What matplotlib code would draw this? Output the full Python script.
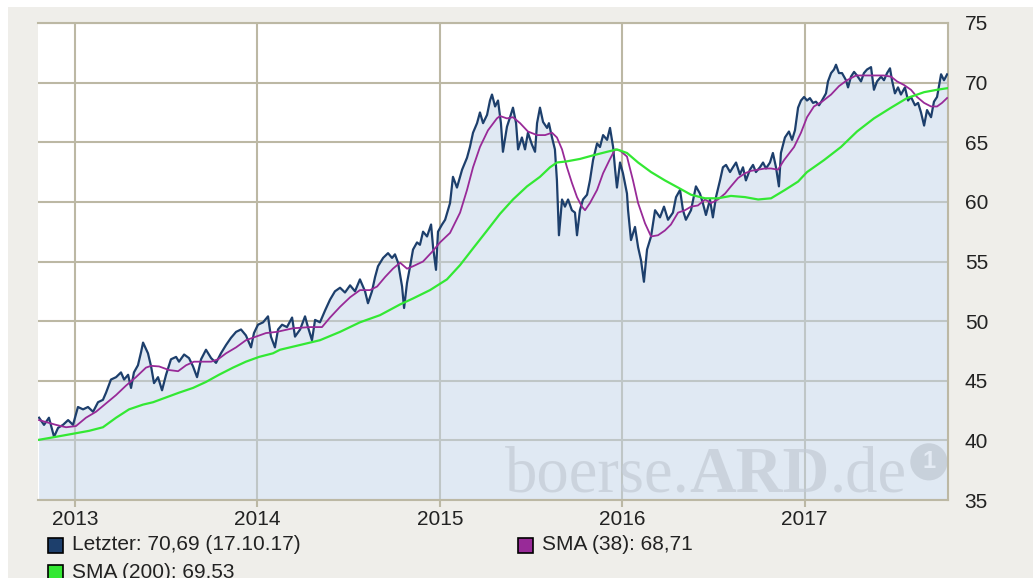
import matplotlib
matplotlib.use('Agg')
import matplotlib.pyplot as plt
from matplotlib.patches import Rectangle
from matplotlib.offsetbox import TextArea, HPacker, AnnotationBbox

plt.rcParams['font.family'] = ['Liberation Sans', 'DejaVu Sans']

# Kurs (Letzter), x in Dezimaljahren
price_t = [2012.803, 2012.830, 2012.857, 2012.885, 2012.907, 2012.934, 2012.962, 2012.989,
           2013.016, 2013.044, 2013.071, 2013.099, 2013.126, 2013.153, 2013.170, 2013.197,
           2013.225, 2013.252, 2013.269, 2013.291, 2013.307, 2013.323, 2013.345, 2013.362,
           2013.373, 2013.400, 2013.417, 2013.433, 2013.455, 2013.477, 2013.499, 2013.526,
           2013.554, 2013.570, 2013.598, 2013.625, 2013.647, 2013.669, 2013.691, 2013.718,
           2013.746, 2013.773, 2013.800, 2013.828, 2013.855, 2013.883, 2013.910, 2013.937,
           2013.965, 2013.981, 2014.003, 2014.031, 2014.058, 2014.074, 2014.096, 2014.113,
           2014.135, 2014.162, 2014.190, 2014.206, 2014.234, 2014.261, 2014.277, 2014.299,
           2014.316, 2014.343, 2014.371, 2014.398, 2014.425, 2014.453, 2014.480, 2014.508,
           2014.535, 2014.562, 2014.590, 2014.606, 2014.628, 2014.645, 2014.661, 2014.689,
           2014.716, 2014.738, 2014.754, 2014.771, 2014.793, 2014.804, 2014.820, 2014.837,
           2014.853, 2014.875, 2014.891, 2014.908, 2014.930, 2014.952, 2014.963, 2014.979,
           2014.990, 2015.012, 2015.029, 2015.056, 2015.072, 2015.094, 2015.122, 2015.149,
           2015.165, 2015.182, 2015.204, 2015.220, 2015.237, 2015.259, 2015.275, 2015.286,
           2015.303, 2015.319, 2015.335, 2015.346, 2015.368, 2015.385, 2015.401, 2015.418,
           2015.429, 2015.450, 2015.467, 2015.483, 2015.505, 2015.522, 2015.533, 2015.549,
           2015.566, 2015.588, 2015.598, 2015.615, 2015.631, 2015.642, 2015.653, 2015.670,
           2015.686, 2015.703, 2015.724, 2015.741, 2015.752, 2015.768, 2015.785, 2015.807,
           2015.823, 2015.840, 2015.862, 2015.878, 2015.895, 2015.917, 2015.933, 2015.950,
           2015.961, 2015.971, 2015.988, 2016.004, 2016.026, 2016.032, 2016.048, 2016.070,
           2016.087, 2016.103, 2016.119, 2016.136, 2016.158, 2016.180, 2016.207, 2016.229,
           2016.251, 2016.278, 2016.295, 2016.317, 2016.333, 2016.349, 2016.377, 2016.404,
           2016.426, 2016.442, 2016.459, 2016.481, 2016.497, 2016.514, 2016.536, 2016.552,
           2016.569, 2016.591, 2016.607, 2016.624, 2016.645, 2016.662, 2016.678, 2016.700,
           2016.717, 2016.733, 2016.755, 2016.772, 2016.788, 2016.810, 2016.826, 2016.843,
           2016.859, 2016.870, 2016.892, 2016.914, 2016.931, 2016.947, 2016.964, 2016.980,
           2016.997, 2017.013, 2017.029, 2017.046, 2017.062, 2017.079, 2017.095, 2017.117,
           2017.128, 2017.145, 2017.161, 2017.172, 2017.188, 2017.205, 2017.227, 2017.238,
           2017.254, 2017.271, 2017.287, 2017.309, 2017.325, 2017.342, 2017.364, 2017.380,
           2017.397, 2017.419, 2017.435, 2017.452, 2017.468, 2017.479, 2017.495, 2017.512,
           2017.528, 2017.550, 2017.567, 2017.583, 2017.605, 2017.622, 2017.638, 2017.655,
           2017.671, 2017.693, 2017.709, 2017.726, 2017.748, 2017.764, 2017.781]
price_v = [41.9, 41.3, 41.9, 40.3, 41.05, 41.3, 41.7, 41.3,
           42.8, 42.6, 42.8, 42.4, 43.2, 43.4, 44.0, 45.1,
           45.3, 45.7, 45.1, 45.5, 44.4, 45.7, 46.3, 47.4,
           48.2, 47.3, 46.2, 44.8, 45.3, 44.2, 45.5, 46.8,
           47.0, 46.6, 47.2, 46.9, 46.2, 45.3, 46.8, 47.6,
           46.9, 46.5, 47.3, 48.0, 48.6, 49.1, 49.3, 48.8,
           47.8, 49.0, 49.7, 49.9, 50.4, 48.7, 47.8, 49.3,
           49.7, 49.5, 50.3, 48.7, 49.3, 50.4, 49.5, 48.4,
           50.1, 49.9, 50.9, 51.8, 52.5, 52.8, 52.4, 53.0,
           52.5, 53.5, 52.5, 51.5, 52.5, 53.7, 54.6, 55.3,
           55.7, 55.3, 55.6, 54.9, 52.9, 51.1, 53.2, 54.6,
           56.0, 56.6, 56.4, 57.5, 57.1, 58.1, 56.2, 54.3,
           57.5, 58.1, 58.5, 59.9, 62.1, 61.2, 62.7, 63.7,
           64.6, 65.8, 66.6, 67.5, 66.6, 67.3, 68.5, 69.0,
           68.0, 68.5, 66.6, 64.2, 66.3, 67.1, 67.9, 66.6,
           64.4, 65.4, 64.4, 65.8, 64.8, 64.2, 66.6, 67.9,
           66.7, 66.2, 66.6, 65.4, 64.4, 61.8, 57.2, 60.2,
           59.6, 60.2, 59.3, 59.1, 57.2, 59.3, 60.2, 60.6,
           61.8, 63.5, 64.9, 64.6, 65.6, 65.2, 66.2, 64.6,
           62.7, 61.2, 63.3, 62.4, 60.7, 59.3, 56.8, 57.9,
           56.2, 55.1, 53.3, 56.0, 57.1, 59.3, 58.7, 59.6,
           58.5, 59.1, 60.4, 61.0, 59.3, 58.5, 59.3, 61.3,
           60.7, 59.9, 58.9, 60.2, 58.7, 60.4, 61.8, 62.9,
           63.1, 62.5, 62.9, 63.3, 62.3, 62.9, 61.8, 62.7,
           63.1, 62.5, 62.9, 63.3, 62.8, 63.3, 64.1, 62.9,
           61.3, 64.1, 65.4, 65.9, 65.2, 66.0, 67.9, 68.5,
           68.8, 68.5, 68.7, 68.3, 68.4, 68.1, 68.5, 69.1,
           70.1, 70.8, 71.1, 71.5, 70.8, 70.8, 70.2, 69.6,
           70.5, 70.9, 70.6, 70.1, 70.8, 71.1, 71.3, 69.4,
           70.1, 70.5, 70.2, 70.8, 71.2, 70.2, 69.1, 69.6,
           69.0, 69.6, 68.5, 68.8, 68.1, 68.3, 67.5, 66.4,
           67.7, 67.1, 68.4, 68.8, 70.7, 70.2, 70.69]

# SMA (38)
sma38_t = [2012.803, 2012.896, 2012.951, 2013.005, 2013.060, 2013.115, 2013.170, 2013.225,
           2013.280, 2013.334, 2013.389, 2013.417, 2013.461, 2013.515, 2013.565, 2013.609,
           2013.652, 2013.702, 2013.746, 2013.784, 2013.828, 2013.883, 2013.937, 2013.992,
           2014.047, 2014.107, 2014.195, 2014.288, 2014.354, 2014.398, 2014.453, 2014.508,
           2014.562, 2014.617, 2014.656, 2014.700, 2014.743, 2014.782, 2014.820, 2014.853,
           2014.908, 2014.957, 2015.001, 2015.056, 2015.111, 2015.149, 2015.182, 2015.220,
           2015.264, 2015.313, 2015.330, 2015.368, 2015.401, 2015.440, 2015.483, 2015.533,
           2015.577, 2015.615, 2015.642, 2015.670, 2015.697, 2015.724, 2015.752, 2015.779,
           2015.796, 2015.823, 2015.862, 2015.895, 2015.933, 2015.961, 2015.988, 2016.026,
           2016.059, 2016.087, 2016.125, 2016.158, 2016.196, 2016.234, 2016.267, 2016.306,
           2016.344, 2016.377, 2016.415, 2016.454, 2016.487, 2016.525, 2016.564, 2016.596,
           2016.635, 2016.673, 2016.706, 2016.745, 2016.783, 2016.816, 2016.854, 2016.887,
           2016.942, 2016.980, 2017.013, 2017.051, 2017.095, 2017.145, 2017.188, 2017.232,
           2017.282, 2017.325, 2017.380, 2017.435, 2017.474, 2017.507, 2017.545, 2017.583,
           2017.616, 2017.655, 2017.693, 2017.726, 2017.753, 2017.781]
sma38_v = [41.7, 41.3, 41.1, 41.2, 41.9, 42.4, 43.1, 43.8,
           44.6, 45.3, 46.1, 46.25, 46.2, 45.9, 45.8, 46.3,
           46.6, 46.6, 46.6, 46.8, 47.3, 47.8, 48.4, 48.7,
           49.0, 49.1, 49.4, 49.5, 49.5, 50.3, 51.2, 52.0,
           52.6, 52.6, 52.9, 53.7, 54.4, 54.9, 54.4, 54.6,
           55.0, 55.8, 56.6, 57.4, 59.1, 61.0, 62.9, 64.6,
           66.0, 67.0, 67.2, 67.0, 67.1, 66.6, 65.9, 65.6,
           65.6, 65.8, 65.4, 64.4, 62.9, 61.6, 60.4, 59.6,
           59.3, 59.9, 61.0, 62.4, 63.6, 64.4, 64.3, 63.8,
           61.8, 59.9, 58.2, 57.1, 57.2, 57.6, 58.1, 59.1,
           59.3, 59.6, 59.7, 60.2, 59.9, 60.2, 60.7, 61.3,
           62.0, 62.4, 62.6, 62.7, 62.8, 62.8, 62.7, 63.5,
           64.6, 65.8, 67.1, 68.0, 68.4, 69.0, 69.7, 70.2,
           70.6, 70.6, 70.6, 70.6, 70.5, 70.1, 69.8, 69.4,
           68.8, 68.3, 68.0, 68.0, 68.3, 68.71]

# SMA (200)
sma200_t = [2012.803, 2012.896, 2013.005, 2013.077, 2013.153, 2013.225, 2013.296, 2013.373,
            2013.428, 2013.499, 2013.570, 2013.647, 2013.718, 2013.789, 2013.866, 2013.937,
            2014.009, 2014.085, 2014.124, 2014.234, 2014.343, 2014.453, 2014.562, 2014.672,
            2014.782, 2014.853, 2014.946, 2015.039, 2015.111, 2015.182, 2015.259, 2015.330,
            2015.401, 2015.478, 2015.549, 2015.604, 2015.642, 2015.697, 2015.768, 2015.840,
            2015.917, 2015.971, 2016.026, 2016.087, 2016.158, 2016.234, 2016.306, 2016.377,
            2016.454, 2016.525, 2016.596, 2016.673, 2016.745, 2016.816, 2016.892, 2016.964,
            2017.013, 2017.106, 2017.199, 2017.287, 2017.380, 2017.474, 2017.561, 2017.655,
            2017.726, 2017.781]
sma200_v = [40.05, 40.3, 40.6, 40.8, 41.1, 41.9, 42.6, 43.0,
            43.2, 43.6, 44.0, 44.4, 44.9, 45.5, 46.1, 46.6,
            47.0, 47.3, 47.6, 48.0, 48.4, 49.1, 49.9, 50.5,
            51.4, 51.9, 52.6, 53.5, 54.7, 56.1, 57.6, 59.0,
            60.2, 61.3, 62.1, 62.9, 63.3, 63.4, 63.6, 63.9,
            64.2, 64.4, 64.1, 63.3, 62.5, 61.8, 61.2, 60.6,
            60.3, 60.3, 60.5, 60.4, 60.2, 60.3, 61.0, 61.7,
            62.5, 63.5, 64.6, 65.9, 67.0, 67.9, 68.7, 69.2,
            69.4, 69.53]

years = [2013, 2014, 2015, 2016, 2017]
y_ticks = [35, 40, 45, 50, 55, 60, 65, 70, 75]
legend_labels = ['Letzter: 70,69 (17.10.17)', 'SMA (38): 68,71', 'SMA (200): 69,53']

c_price = '#1d3f6c'
c_sma38 = '#982a98'
c_sma200 = '#33e833'
c_grid = '#bcb8a4'
c_fill = '#c3d5e9'
c_bg = '#efeeea'
c_wm = '#c3cbd5'

fig = plt.figure(figsize=(10.33, 5.78), dpi=100)
fig.patch.set_facecolor('white')
fig.patches.append(Rectangle((8 / 1033, 0), 1, 1 - 7 / 578, transform=fig.transFigure,
                             facecolor=c_bg, edgecolor='none', zorder=-10))

ax = fig.add_axes([38 / 1033, 1 - 500 / 578, 910 / 1033, 477 / 578])
ax.set_facecolor('white')

ax.fill_between(price_t, price_v, 0, color=c_fill, alpha=0.5, lw=0, zorder=1)
ax.plot(price_t, price_v, color=c_price, lw=1.6, zorder=3)
ax.plot(sma38_t, sma38_v, color=c_sma38, lw=1.3, zorder=4)
ax.plot(sma200_t, sma200_v, color=c_sma200, lw=1.6, zorder=5)

ax.set_xlim(2012.797, 2017.786)
ax.set_ylim(35, 75)
ax.set_xticks(years)
ax.set_xticklabels([str(y) for y in years])
ax.set_yticks(y_ticks)
ax.yaxis.tick_right()
ax.grid(True, color=c_grid, lw=1.5, zorder=0)
ax.set_axisbelow(True)
ax.tick_params(axis='y', length=0, pad=12, labelsize=15, labelcolor='#222222')
ax.tick_params(axis='x', length=5, width=1.5, color=c_grid, pad=2,
               labelsize=15, labelcolor='#222222')
ax.spines['left'].set_visible(False)
for s in ['top', 'right', 'bottom']:
    ax.spines[s].set_color(c_grid)
    ax.spines[s].set_linewidth(1.5)

# Wasserzeichen
wm = dict(color=c_wm, fontsize=46.5, family='Liberation Serif', alpha=0.7)
box = HPacker(children=[TextArea('boerse.', textprops=wm),
                        TextArea('ARD', textprops=dict(wm, fontweight='bold')),
                        TextArea('.de', textprops=wm)],
              align='baseline', pad=0, sep=0)
ab = AnnotationBbox(box, (0.513, -0.012), xycoords='axes fraction', box_alignment=(0, 0),
                    frameon=False, zorder=2)
ax.add_artist(ab)
ax.text(0.979, 0.08, '1', transform=ax.transAxes, ha='center', va='center',
        fontsize=17, fontweight='bold', color='#e4ebf4', family='Liberation Sans', zorder=2,
        bbox=dict(boxstyle='circle,pad=0.3', fc=c_wm, ec='none', alpha=0.8))

# Legende (die dritte Zeile ist wie im Original am unteren Rand angeschnitten)
leg_pos = [(48, 545), (518, 545), (48, 572)]
for (px, py), lab, col in zip(leg_pos, legend_labels, [c_price, c_sma38, c_sma200]):
    fig.patches.append(Rectangle((px / 1033, 1 - (py + 7.5) / 578), 15 / 1033, 15 / 578,
                                 transform=fig.transFigure, facecolor=col,
                                 edgecolor='black', lw=1.2))
    fig.text((px + 24) / 1033, 1 - py / 578, lab, fontsize=15, color='#222222',
             va='center', ha='left')

fig.savefig('out.png', dpi=100, facecolor=fig.get_facecolor())
